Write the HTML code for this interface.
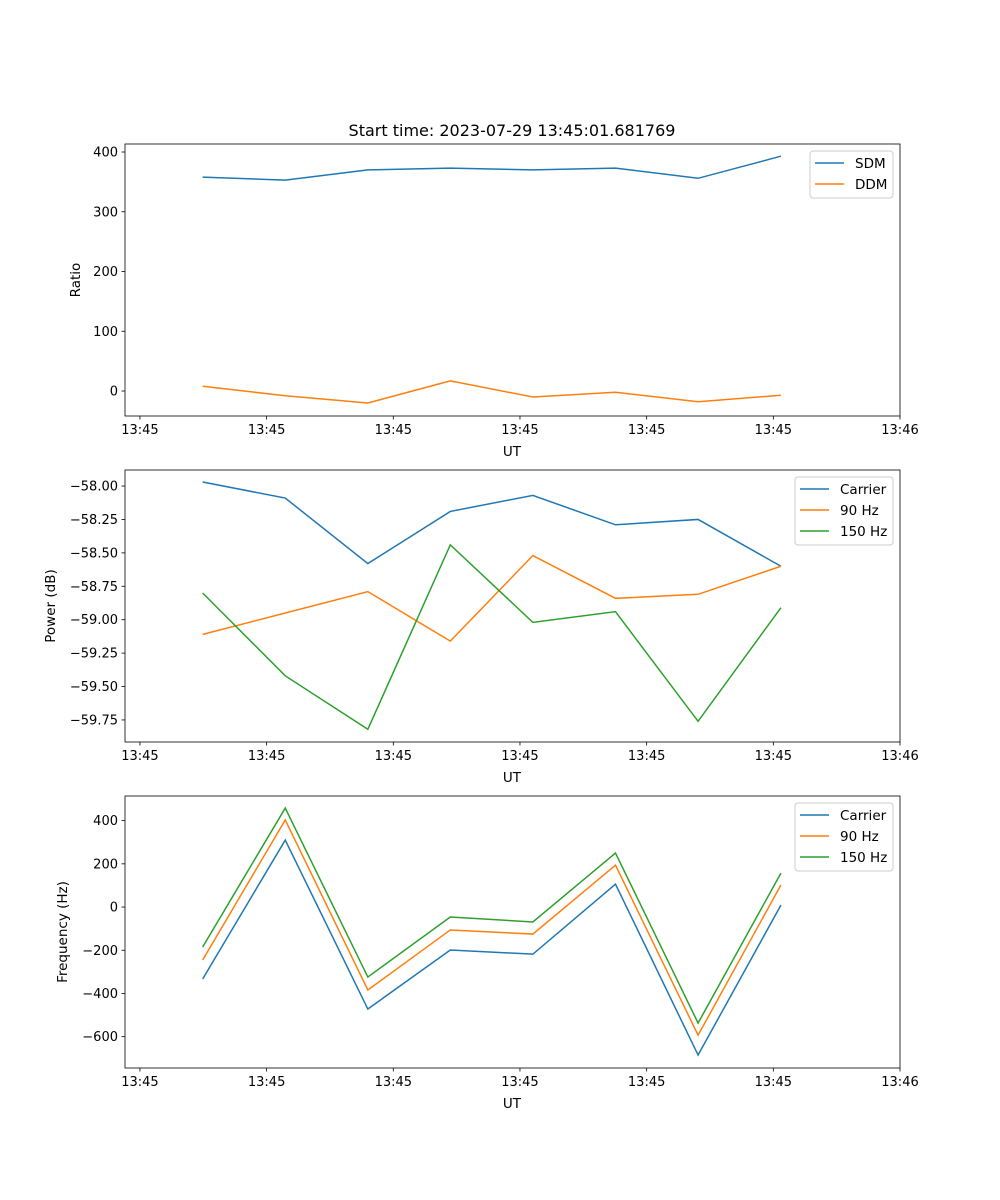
<!DOCTYPE html>
<html><head><meta charset="utf-8"><style>
body{margin:0;background:#fff;}
svg{display:block;font-family:"DejaVu Sans","Liberation Sans",sans-serif;}
</style></head><body>
<svg id="fig" width="1000" height="1200"></svg>
<script>
const times=[4.95,11.47,17.99,24.5,31.02,37.54,44.06,50.6];
const xTicks=[0,10,20,30,40,50,60];
const xTickLabels=["13:45","13:45","13:45","13:45","13:45","13:45","13:46"];
const sdm=[358,353,370,373,370,373,356,393];
const ddm=[8,-8,-20,17,-10,-2,-18,-7];
const powCarrier=[-57.97,-58.09,-58.58,-58.19,-58.07,-58.29,-58.25,-58.6];
const pow90=[-59.11,-58.95,-58.79,-59.16,-58.52,-58.84,-58.81,-58.6];
const pow150=[-58.80,-59.42,-59.82,-58.44,-59.02,-58.94,-59.76,-58.91];
const freqCarrier=[-333,310,-472,-199,-218,106,-685,9];
const freq90=[-245,403,-384,-106,-125,194,-593,102];
const freq150=[-185,458,-324,-46,-69,250,-537,157];
const yTicks1=[0,100,200,300,400];
const yTicks2=[-59.75,-59.5,-59.25,-59.0,-58.75,-58.5,-58.25,-58.0];
const yTicks3=[-600,-400,-200,0,200,400];

const NS="http://www.w3.org/2000/svg";
const svg=document.getElementById('fig');
function mk(tag,attrs,parent){const e=document.createElementNS(NS,tag);for(const k in attrs)e.setAttribute(k,attrs[k]);(parent||svg).appendChild(e);return e;}
const X0=125,X1=900,xMin=-1.18,xMax=60;
function sx(t){return X0+(t-xMin)/(xMax-xMin)*(X1-X0);}
const C=["#1f77b4","#ff7f0e","#2ca02c"];

function panel(name,top,yMin,yMax,ticks,fmt,ylabel,series,labels,legendW){
  const bot=top+272;
  const g=mk('g',{});
  
  
  const sy=v=>bot-(v-yMin)/(yMax-yMin)*272;
  series.forEach((s,i)=>{
    const pts=s.map((v,j)=>sx(times[j]).toFixed(2)+','+sy(v).toFixed(2)).join(' ');
    const p=mk('polyline',{points:pts,fill:'none',stroke:C[i],'stroke-width':1.5},g);
    
    
  });
  const fr=mk('rect',{x:X0,y:top,width:X1-X0,height:272,fill:'none',stroke:'#000','stroke-width':0.8},g);
  
  
  xTicks.forEach((t,i)=>{
    const x=sx(t);
    mk('line',{x1:x,x2:x,y1:bot,y2:bot+3.5,stroke:'#000','stroke-width':0.8},g);
    const tx=mk('text',{x:x,y:bot+18,'font-size':13,'text-anchor':'middle'},g);
    tx.textContent=xTickLabels[i];
    
    
  });
  ticks.forEach(v=>{
    const y=sy(v);
    mk('line',{x1:X0-3.5,x2:X0,y1:y,y2:y,stroke:'#000','stroke-width':0.8},g);
    const tx=mk('text',{x:X0-7,y:y+4.5,'font-size':13,'text-anchor':'end'},g);
    tx.textContent=fmt(v);
    
    
  });
  const xl=mk('text',{x:512,y:bot+40,'font-size':13.5,'text-anchor':'middle'},g);
  xl.textContent='UT';
  
  
  const yx=ylabel.x;
  const yl=mk('text',{x:yx,y:top+136,'font-size':13.5,'text-anchor':'middle',transform:`rotate(-90 ${yx} ${top+136})`},g);
  yl.textContent=ylabel.t;
  
  
  const lx=893-legendW, ly=top+7;
  const lg=mk('g',{},g);
  
  
  mk('rect',{x:lx,y:ly,width:legendW,height:21*labels.length+5,rx:3,fill:'#fff',stroke:'#ccc','stroke-width':1},lg);
  labels.forEach((l,i)=>{
    const yy=ly+12+21*i;
    mk('line',{x1:lx+5,x2:lx+34,y1:yy,y2:yy,stroke:C[i],'stroke-width':1.5},lg);
    const t=mk('text',{x:lx+45,y:yy+5,'font-size':13.5},lg);
    t.textContent=l;
    
    
  });
}
const title=mk('text',{x:512,y:136,'font-size':16,'text-anchor':'middle'});
title.textContent='Start time: 2023-07-29 13:45:01.681769';


panel('ratio-panel',144,-41.8,413.4,yTicks1,v=>v,{t:'Ratio',x:80},[sdm,ddm],['SDM','DDM'],83);
panel('power-panel',470,-59.915,-57.88,yTicks2,v=>v.toFixed(2).replace('-','\u2212'),{t:'Power (dB)',x:55},[powCarrier,pow90,pow150],['Carrier','90 Hz','150 Hz'],98);
panel('frequency-panel',796,-745,514,yTicks3,v=>String(v).replace('-','\u2212'),{t:'Frequency (Hz)',x:67},[freqCarrier,freq90,freq150],['Carrier','90 Hz','150 Hz'],98);
</script>
</body></html>
